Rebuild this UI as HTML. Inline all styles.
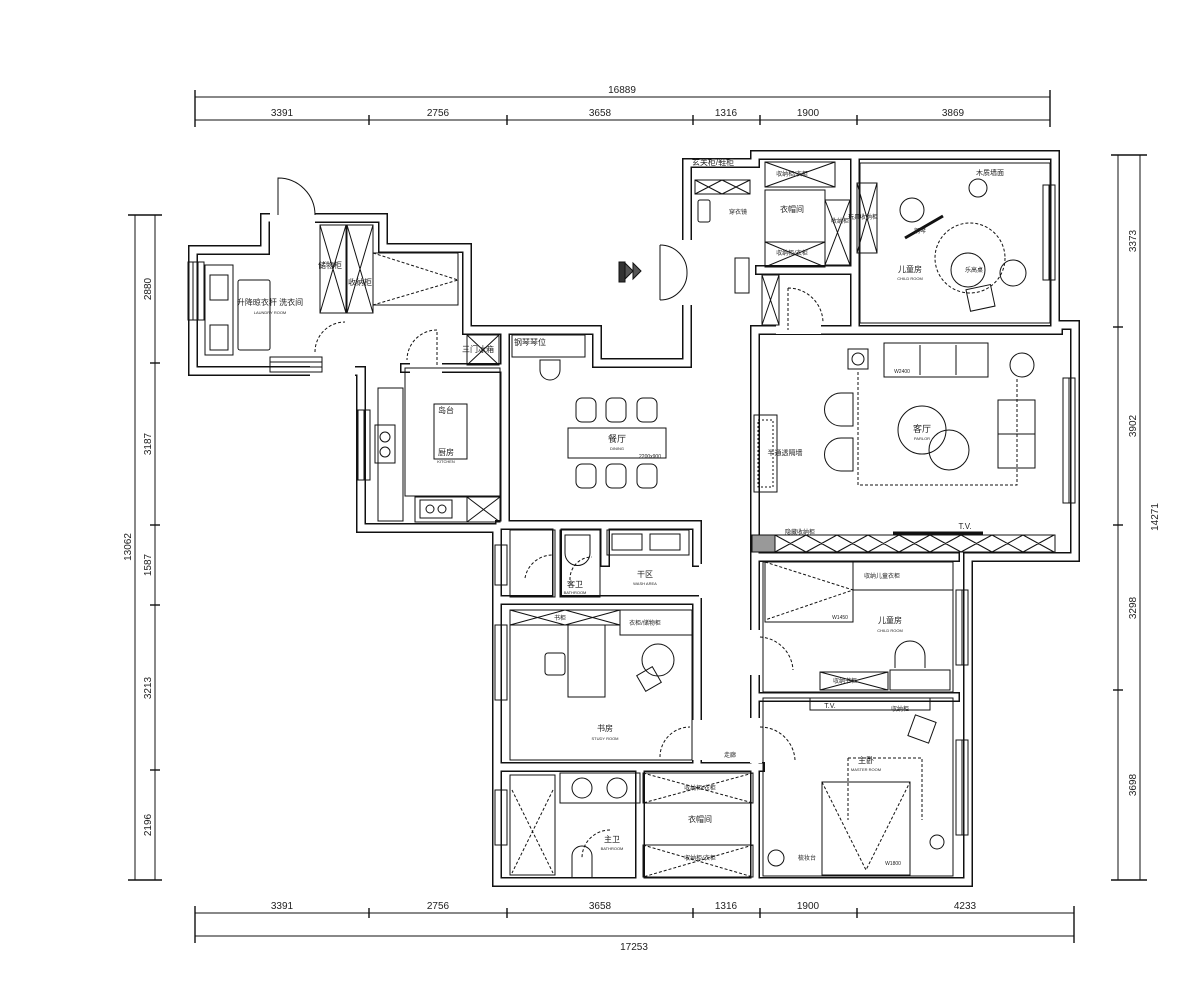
<!DOCTYPE html>
<html><head><meta charset="utf-8"><style>
html,body{margin:0;padding:0;background:#fff;width:1200px;height:1000px;overflow:hidden}
svg text{font-family:"Liberation Sans","Noto Sans CJK SC",sans-serif;fill:#222}
</style></head><body>
<svg width="1200" height="1000" viewBox="0 0 1200 1000" xmlns="http://www.w3.org/2000/svg">
<g stroke="#111" stroke-width="1" fill="none">
<line x1="195" y1="97" x2="1050" y2="97"/><line x1="195" y1="120" x2="1050" y2="120"/>
<g stroke-width="1.4">
<line x1="195" y1="90" x2="195" y2="127"/><line x1="1050" y1="90" x2="1050" y2="127"/>
<line x1="369" y1="115" x2="369" y2="125"/><line x1="507" y1="115" x2="507" y2="125"/><line x1="693" y1="115" x2="693" y2="125"/><line x1="760" y1="115" x2="760" y2="125"/><line x1="857" y1="115" x2="857" y2="125"/>
</g>
<line x1="195" y1="913" x2="1074" y2="913"/><line x1="195" y1="936" x2="1074" y2="936"/>
<g stroke-width="1.4">
<line x1="195" y1="906" x2="195" y2="943"/><line x1="1074" y1="906" x2="1074" y2="943"/>
<line x1="369" y1="908" x2="369" y2="918"/><line x1="507" y1="908" x2="507" y2="918"/><line x1="693" y1="908" x2="693" y2="918"/><line x1="760" y1="908" x2="760" y2="918"/><line x1="857" y1="908" x2="857" y2="918"/>
</g>
<line x1="135" y1="215" x2="135" y2="880"/><line x1="155" y1="215" x2="155" y2="880"/>
<g stroke-width="1.4">
<line x1="128" y1="215" x2="162" y2="215"/><line x1="128" y1="880" x2="162" y2="880"/>
<line x1="150" y1="363" x2="160" y2="363"/><line x1="150" y1="525" x2="160" y2="525"/><line x1="150" y1="605" x2="160" y2="605"/><line x1="150" y1="770" x2="160" y2="770"/>
</g>
<line x1="1118" y1="155" x2="1118" y2="880"/><line x1="1140" y1="155" x2="1140" y2="880"/>
<g stroke-width="1.4">
<line x1="1111" y1="155" x2="1147" y2="155"/><line x1="1111" y1="880" x2="1147" y2="880"/>
<line x1="1113" y1="327" x2="1123" y2="327"/><line x1="1113" y1="525" x2="1123" y2="525"/><line x1="1113" y1="690" x2="1123" y2="690"/>
</g>
</g>
<g font-size="10" text-anchor="middle">
<text x="622" y="93">16889</text>
<text x="282" y="116">3391</text><text x="438" y="116">2756</text><text x="600" y="116">3658</text><text x="726" y="116">1316</text><text x="808" y="116">1900</text><text x="953" y="116">3869</text>
<text x="282" y="909">3391</text><text x="438" y="909">2756</text><text x="600" y="909">3658</text><text x="726" y="909">1316</text><text x="808" y="909">1900</text><text x="965" y="909">4233</text>
<text x="634" y="950">17253</text>
<text transform="translate(131,547) rotate(-90)">13062</text>
<text transform="translate(151,289) rotate(-90)">2880</text><text transform="translate(151,444) rotate(-90)">3187</text><text transform="translate(151,565) rotate(-90)">1587</text><text transform="translate(151,688) rotate(-90)">3213</text><text transform="translate(151,825) rotate(-90)">2196</text>
<text transform="translate(1136,241) rotate(-90)">3373</text><text transform="translate(1136,426) rotate(-90)">3902</text><text transform="translate(1136,608) rotate(-90)">3298</text><text transform="translate(1136,785) rotate(-90)">3698</text>
<text transform="translate(1158,517) rotate(-90)">14271</text>
</g>

<g fill="none" stroke-linejoin="miter" stroke-linecap="square">
<g stroke="#111" stroke-width="10">
<path d="M193,250 H265 V218 H383 V248 H467 V330 H597 V363 H687 V163 H755 V155 H1055 V325 H1075 V557 H968 V882 H497 V528 H361 V371 H193 Z"/>
<path d="M405,368 H500 M505,335 V525 M500,525 H697 V562 M497,600 H697 V765 M497,767 H760 M755,335 V560 M755,560 V880 M762,697 H955 M760,557 H955 M755,330 H1058 M855,160 V325 M760,270 H855 M605,528 V562 M557,528 V600 M640,770 V880"/>
</g>
<g stroke="#fff" stroke-width="7">
<path d="M193,250 H265 V218 H383 V248 H467 V330 H597 V363 H687 V163 H755 V155 H1055 V325 H1075 V557 H968 V882 H497 V528 H361 V371 H193 Z"/>
<path d="M405,368 H500 M505,335 V525 M500,525 H697 V562 M497,600 H697 V765 M497,767 H760 M755,335 V560 M755,560 V880 M762,697 H955 M760,557 H955 M755,330 H1058 M855,160 V325 M760,270 H855 M605,528 V562 M557,528 V600 M640,770 V880"/>
</g>
</g>
<g fill="#fff">
<rect x="270" y="212" width="45" height="12"/>
<rect x="650" y="240" width="42" height="65"/>
<rect x="310" y="362" width="45" height="14"/>
<rect x="410" y="362" width="32" height="12"/>
<rect x="750" y="630" width="12" height="45"/>
<rect x="750" y="718" width="12" height="45"/>
<rect x="690" y="720" width="12" height="40"/>
<rect x="776" y="320" width="45" height="14"/>
<rect x="699" y="564" width="50" height="34"/>
</g>
<g fill="none" stroke="#111" stroke-width="1">
<path d="M278,215 V178 A37,37 0 0 1 315,215"/>
<path d="M660,245 A27,27 0 0 1 687,272 M660,300 A27,27 0 0 0 687,272"/>
<line x1="660" y1="245" x2="660" y2="272"/><line x1="660" y1="272" x2="660" y2="300"/>
<path d="M315,352 A30,30 0 0 1 345,322" stroke-dasharray="3,2"/>
<path d="M437,365 V330 A30,30 0 0 0 407,360" stroke-dasharray="3,2"/>
<path d="M788,288 V330 M788,288 A35,35 0 0 1 823,323" stroke-dasharray="3,2"/>
<path d="M760,637 A35,35 0 0 1 793,670" stroke-dasharray="3,2"/>
<path d="M760,727 A35,35 0 0 1 795,760" stroke-dasharray="3,2"/>
<path d="M660,757 A30,30 0 0 1 690,727" stroke-dasharray="3,2"/>
<path d="M610,830 A28,28 0 0 0 582,858" stroke-dasharray="3,2"/>
<path d="M525,578 A28,28 0 0 1 553,555" stroke-dasharray="3,2"/>
<path d="M570,580 A22,22 0 0 1 592,557" stroke-dasharray="3,2"/>
<g stroke-width="1">
<rect x="188" y="262" width="16" height="58"/><line x1="193" y1="262" x2="193" y2="320"/><line x1="198" y1="262" x2="198" y2="320"/>
<rect x="270" y="357" width="52" height="15"/><line x1="270" y1="362" x2="322" y2="362"/><line x1="270" y1="367" x2="322" y2="367"/>
<rect x="358" y="410" width="12" height="70"/><line x1="364" y1="410" x2="364" y2="480"/>
<rect x="1043" y="185" width="12" height="95"/><line x1="1049" y1="185" x2="1049" y2="280"/>
<rect x="1063" y="378" width="12" height="125"/><line x1="1069" y1="378" x2="1069" y2="503"/>
<rect x="956" y="590" width="12" height="75"/><line x1="962" y1="590" x2="962" y2="665"/>
<rect x="956" y="740" width="12" height="95"/><line x1="962" y1="740" x2="962" y2="835"/>
<rect x="495" y="625" width="12" height="75"/><line x1="501" y1="625" x2="501" y2="700"/>
<rect x="495" y="790" width="12" height="55"/><line x1="501" y1="790" x2="501" y2="845"/>
<rect x="495" y="545" width="12" height="40"/>
</g>
<rect x="205" y="265" width="28" height="90"/><rect x="210" y="275" width="18" height="25"/><rect x="210" y="325" width="18" height="25"/>
<rect x="238" y="280" width="32" height="70" rx="2"/>
<rect x="320" y="225" width="26" height="88"/><path d="M320,225 L346,313 M346,225 L320,313"/>
<rect x="347" y="225" width="26" height="88"/><path d="M347,225 L373,313 M373,225 L347,313"/>
<rect x="373" y="253" width="85" height="52"/><path d="M373,253 L458,280 L373,305" stroke-dasharray="3,2"/>
<rect x="405" y="368" width="95" height="128"/>
<rect x="434" y="404" width="33" height="55"/>
<rect x="375" y="425" width="20" height="38"/><circle cx="385" cy="437" r="5"/><circle cx="385" cy="452" r="5"/>
<rect x="378" y="388" width="25" height="133"/>
<rect x="415" y="497" width="85" height="25"/><rect x="420" y="500" width="32" height="18"/><circle cx="430" cy="509" r="4"/><circle cx="442" cy="509" r="4"/>
<rect x="467" y="497" width="33" height="25"/><path d="M467,497 L500,522 M500,497 L467,522"/>
<rect x="467" y="335" width="32" height="30"/><path d="M467,335 L499,365 M499,335 L467,365"/>
<rect x="512" y="335" width="73" height="22"/>
<path d="M540,360 h20 v10 a10,10 0 0 1 -20,0 z"/>
<rect x="568" y="428" width="98" height="30"/>
<g><rect x="576" y="398" width="20" height="24" rx="6"/><rect x="606" y="398" width="20" height="24" rx="6"/><rect x="637" y="398" width="20" height="24" rx="6"/>
<rect x="576" y="464" width="20" height="24" rx="6"/><rect x="606" y="464" width="20" height="24" rx="6"/><rect x="637" y="464" width="20" height="24" rx="6"/></g>
<rect x="695" y="180" width="55" height="14"/><path d="M695,180 l27,14 m0,-14 l-27,14 M722,180 l28,14 m0,-14 l-28,14"/>
<rect x="698" y="200" width="12" height="22" rx="2"/>
<rect x="735" y="258" width="14" height="35"/>
<path d="M625,263 l8,8 l-8,8 z M633,263 l8,8 l-8,8 z" fill="#555"/>
<rect x="619" y="262" width="6" height="20" fill="#333"/>
<rect x="765" y="162" width="70" height="25"/><path d="M765,162 l70,25 m0,-25 l-70,25"/>
<rect x="765" y="190" width="60" height="52"/>
<rect x="765" y="242" width="60" height="25"/><path d="M765,242 l60,25 m0,-25 l-60,25"/>
<rect x="825" y="200" width="25" height="65"/><path d="M825,200 l25,65 m0,-65 l-25,65"/>
<rect x="762" y="275" width="17" height="50"/><path d="M762,275 l17,50 m0,-50 l-17,50"/>
<rect x="857" y="183" width="20" height="70"/><path d="M857,183 l20,70 m0,-70 l-20,70"/>
<rect x="860" y="163" width="190" height="160"/>
<circle cx="978" cy="188" r="9"/>
<circle cx="912" cy="210" r="12"/>
<line x1="905" y1="238" x2="943" y2="216" stroke-width="3"/>
<circle cx="970" cy="258" r="35" stroke-dasharray="3,2"/>
<circle cx="968" cy="270" r="17"/>
<circle cx="1013" cy="273" r="13"/>
<rect x="968" y="287" width="25" height="22" transform="rotate(-12 980 298)"/>
<rect x="848" y="349" width="20" height="20"/><circle cx="858" cy="359" r="6"/>
<rect x="884" y="343" width="104" height="34"/><line x1="920" y1="345" x2="920" y2="375"/><line x1="956" y1="345" x2="956" y2="375"/>
<circle cx="1022" cy="365" r="12"/>
<path d="M858,372 V485 H1017 V378" stroke-dasharray="3,2"/>
<path d="M853,393 h-12 a13,13 0 0 0 0,33 h12 z"/>
<path d="M853,438 h-12 a13,13 0 0 0 0,33 h12 z"/>
<circle cx="922" cy="430" r="24"/><circle cx="949" cy="450" r="20"/>
<rect x="998" y="400" width="37" height="68"/><line x1="998" y1="434" x2="1035" y2="434"/>
<rect x="754" y="415" width="23" height="77"/><rect x="758" y="420" width="15" height="67" stroke-dasharray="2,2"/>
<rect x="775" y="535" width="280" height="17"/>
<rect x="752" y="535" width="23" height="17" fill="#999"/>
<g><path d="M775,535 l31,17 m0,-17 l-31,17 M806,535 l31,17 m0,-17 l-31,17 M837,535 l31,17 m0,-17 l-31,17 M868,535 l31,17 m0,-17 l-31,17 M899,535 l31,17 m0,-17 l-31,17 M930,535 l31,17 m0,-17 l-31,17 M961,535 l31,17 m0,-17 l-31,17 M992,535 l31,17 m0,-17 l-31,17 M1023,535 l31,17 m0,-17 l-31,17"/></g>
<line x1="893" y1="533" x2="983" y2="533" stroke-width="3"/>
<rect x="510" y="530" width="45" height="67"/>
<rect x="560" y="530" width="40" height="67"/><path d="M565,535 h25 v18 a12,12 0 0 1 -25,0z"/>
<rect x="607" y="530" width="82" height="25"/><rect x="612" y="534" width="30" height="16"/><rect x="650" y="534" width="30" height="16"/>
<rect x="510" y="610" width="182" height="150"/>
<rect x="510" y="610" width="110" height="15"/><path d="M510,610 l55,15 m0,-15 l-55,15 M565,610 l55,15 m0,-15 l-55,15"/>
<rect x="620" y="610" width="72" height="25"/>
<rect x="568" y="625" width="37" height="72"/>
<rect x="545" y="653" width="20" height="22" rx="3"/>
<circle cx="658" cy="660" r="16"/><rect x="640" y="670" width="18" height="18" transform="rotate(-30 649 679)"/>
<rect x="510" y="775" width="45" height="100"/><path d="M512,790 L553,873 M553,790 L512,873" stroke-dasharray="3,2"/>
<rect x="560" y="773" width="80" height="30"/><circle cx="582" cy="788" r="10"/><circle cx="617" cy="788" r="10"/>
<path d="M572,878 v-22 a10,10 0 0 1 20,0 v22"/>
<rect x="643" y="773" width="110" height="30"/><path d="M643,773 l110,30 m0,-30 l-110,30" stroke-dasharray="3,2"/>
<rect x="643" y="845" width="110" height="32"/><path d="M643,845 l110,32 m0,-32 l-110,32" stroke-dasharray="3,2"/>
<rect x="763" y="562" width="190" height="130"/>
<rect x="765" y="562" width="88" height="60"/><path d="M765,562 L853,590 L765,620" stroke-dasharray="3,2"/>
<rect x="853" y="562" width="100" height="28"/>
<rect x="890" y="670" width="60" height="20"/><path d="M895,668 v-12 a10,10 0 0 1 30,0 v12"/>
<rect x="820" y="672" width="68" height="18"/><path d="M820,672 l68,18 m0,-18 l-68,18"/>
<rect x="763" y="698" width="190" height="178"/>
<rect x="810" y="698" width="120" height="12"/>
<path d="M848,758 H922 V820 M848,758 V820" stroke-dasharray="3,2"/>
<rect x="822" y="782" width="88" height="93"/><path d="M822,782 L866,870 L910,782" stroke-dasharray="3,2"/>
<rect x="911" y="718" width="22" height="22" transform="rotate(20 922 729)"/>
<circle cx="776" cy="858" r="8"/><circle cx="937" cy="842" r="7"/>
</g>

<g font-size="8" text-anchor="middle">
<text x="270" y="305">升降晾衣杆 洗衣间</text><text x="270" y="314" font-size="4">LAUNDRY ROOM</text>
<text x="330" y="268">储物柜</text><text x="360" y="285">收纳柜</text>
<text x="478" y="352">三门冰箱</text><text x="530" y="345">钢琴琴位</text>
<text x="446" y="413">岛台</text><text x="446" y="455">厨房</text><text x="446" y="463" font-size="4">KITCHEN</text>
<text x="617" y="442" font-size="9">餐厅</text><text x="617" y="450" font-size="4">DINING</text><text x="650" y="458" font-size="5">2200x900</text>
<text x="713" y="165">玄关柜/鞋柜</text><text x="738" y="214" font-size="6">穿衣镜</text>
<text x="792" y="176" font-size="6">収纳柜/衣柜</text><text x="792" y="212">衣帽间</text><text x="792" y="255" font-size="6">収纳柜/衣柜</text>
<text x="840" y="223" font-size="6">收纳柜</text><text x="863" y="219" font-size="6">玩具收纳柜</text>
<text x="990" y="175" font-size="7">木质墙面</text>
<text x="920" y="233" font-size="6">钢琴</text>
<text x="910" y="272">儿童房</text><text x="910" y="280" font-size="4">CHILD ROOM</text>
<text x="974" y="272" font-size="6">乐高桌</text>
<text x="785" y="455" font-size="7">半通透隔墙</text>
<text x="922" y="432" font-size="9">客厅</text><text x="922" y="440" font-size="4">PARLOR</text>
<text x="902" y="373" font-size="5">W2400</text>
<text x="965" y="529">T.V.</text><text x="800" y="534" font-size="6">隐藏收纳柜</text>
<text x="575" y="587">客卫</text><text x="575" y="594" font-size="4">BATHROOM</text>
<text x="645" y="577">干区</text><text x="645" y="585" font-size="4">WASH AREA</text>
<text x="560" y="620" font-size="6">书柜</text><text x="645" y="625" font-size="6">衣柜/储物柜</text>
<text x="605" y="731">书房</text><text x="605" y="740" font-size="4">STUDY ROOM</text>
<text x="730" y="757" font-size="6">走廊</text>
<text x="700" y="790" font-size="6">収纳柜/衣柜</text><text x="700" y="822">衣帽间</text><text x="700" y="860" font-size="6">収纳柜/衣柜</text>
<text x="612" y="842">主卫</text><text x="612" y="850" font-size="4">BATHROOM</text>
<text x="882" y="578" font-size="6">収纳儿童衣柜</text>
<text x="890" y="623">儿童房</text><text x="890" y="632" font-size="4">CHILD ROOM</text>
<text x="840" y="619" font-size="5">W1450</text>
<text x="845" y="683" font-size="6">収纳书柜</text>
<text x="830" y="708" font-size="7">T.V.</text><text x="900" y="711" font-size="6">収纳柜</text>
<text x="866" y="763">主卧</text><text x="866" y="771" font-size="4">MASTER ROOM</text>
<text x="807" y="860" font-size="6">梳妆台</text><text x="893" y="865" font-size="5">W1800</text>
</g>
</svg>
</body></html>
